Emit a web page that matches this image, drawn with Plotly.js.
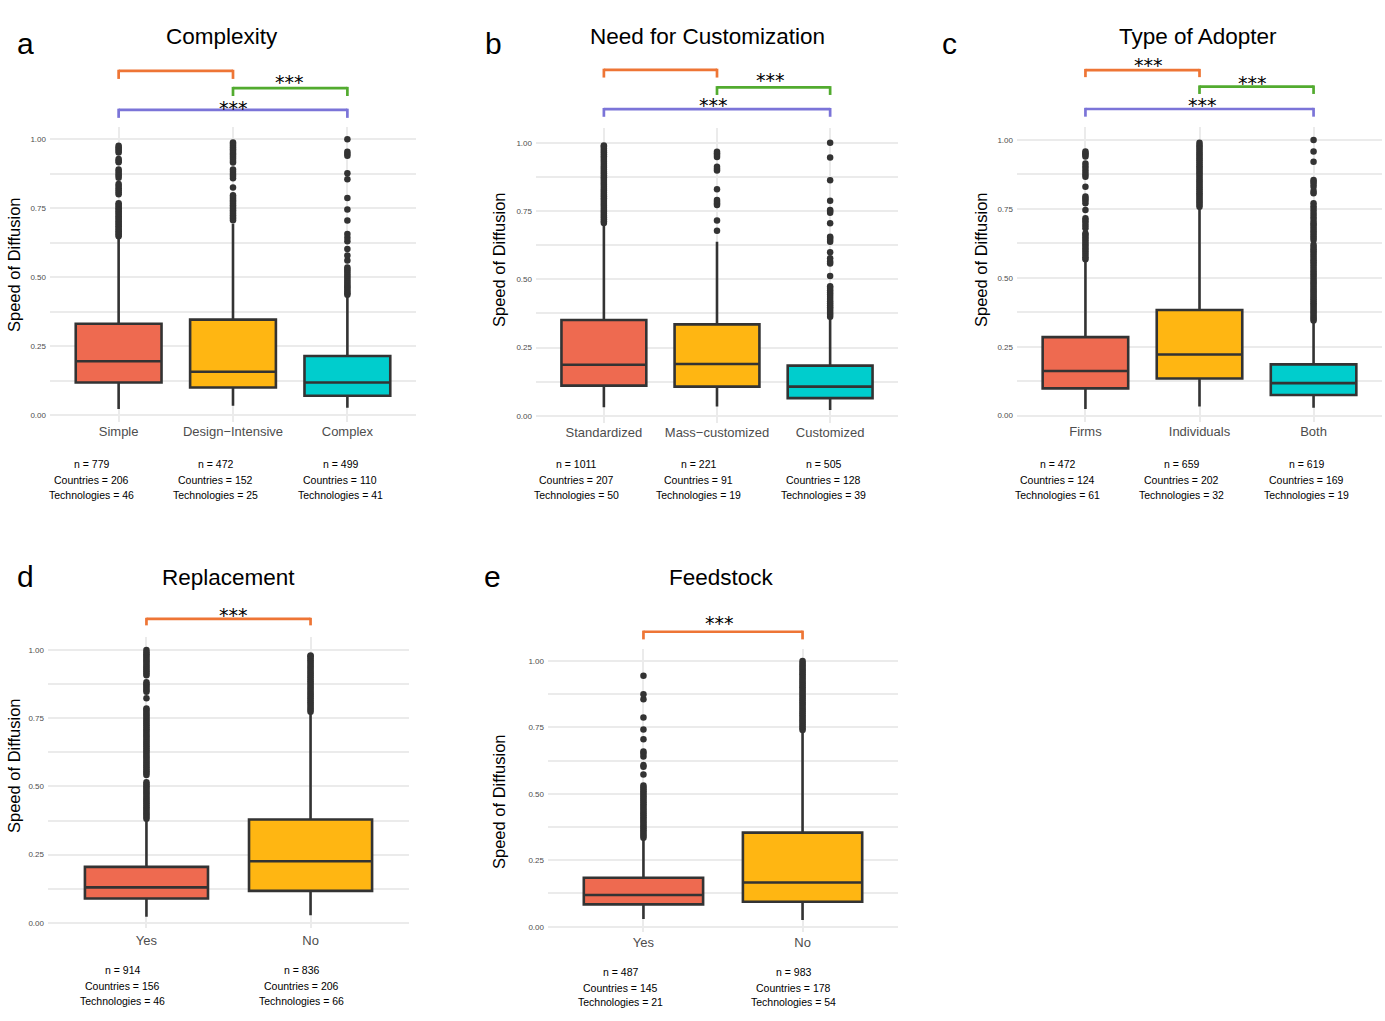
<!DOCTYPE html>
<html>
<head>
<meta charset="utf-8">
<script src="https://cdn.plot.ly/plotly-3.0.1.min.js"></script>
<style>
  body { margin: 0; background: #fff; }
  #chart { width: 1385px; height: 1021px; }
</style>
</head>
<body>
<div id="chart"></div>
<script>
// ---- data ----
var complexityCats = ['Simple', 'Design\u2212Intensive', 'Complex'];
var complexityQ1 = [0.118, 0.100, 0.070];
var complexityMedian = [0.195, 0.157, 0.118];
var complexityQ3 = [0.331, 0.346, 0.214];
var complexityLow = [0.022, 0.034, 0.027];
var complexityHigh = [0.645, 0.693, 0.428];
var complexityOutliers = [
  [0.648, 0.654, 0.66, 0.666, 0.672, 0.678, 0.684, 0.69, 0.696, 0.702, 0.708, 0.714, 0.72, 0.726, 0.732, 0.738, 0.744, 0.75, 0.756, 0.762, 0.768,
   0.80, 0.808, 0.815, 0.822, 0.83, 0.837, 0.86, 0.868, 0.875, 0.883, 0.89, 0.916, 0.922, 0.928, 0.952, 0.958, 0.964, 0.97, 0.976],
  [0.706, 0.712, 0.718, 0.724, 0.73, 0.736, 0.742, 0.748, 0.754, 0.76, 0.766, 0.772, 0.778, 0.784, 0.79, 0.797, 0.825,
   0.858, 0.866, 0.874, 0.882, 0.89, 0.915, 0.922, 0.93, 0.937, 0.944, 0.95, 0.957, 0.963, 0.97, 0.976, 0.982, 0.988],
  [0.436, 0.442, 0.448, 0.455, 0.462, 0.468, 0.475, 0.482, 0.49, 0.498, 0.505, 0.512, 0.52, 0.528, 0.535,
   0.56, 0.578, 0.602, 0.63, 0.643, 0.656, 0.705, 0.745, 0.787, 0.855, 0.876, 0.94, 0.947, 0.954, 1.0]
];
var complexityN = [779, 472, 499];
var complexityCountries = [206, 152, 110];
var complexityTech = [46, 25, 41];

var customCats = ['Standardized', 'Mass\u2212customized', 'Customized'];
var customQ1 = [0.111, 0.107, 0.065];
var customMedian = [0.187, 0.190, 0.107];
var customQ3 = [0.351, 0.335, 0.184];
var customLow = [0.032, 0.034, 0.022];
var customHigh = [0.705, 0.638, 0.357];
var customOutliers = [
  [0.706, 0.713, 0.72, 0.727, 0.734, 0.741, 0.748, 0.755, 0.762, 0.769, 0.776, 0.783, 0.79, 0.797, 0.804, 0.811, 0.818, 0.825, 0.832, 0.839, 0.846,
   0.853, 0.86, 0.867, 0.874, 0.881, 0.888, 0.895, 0.902, 0.909, 0.916, 0.923, 0.93, 0.937, 0.944, 0.951, 0.958, 0.965, 0.972, 0.979, 0.986, 0.99],
  [0.678, 0.715, 0.772, 0.778, 0.784, 0.79, 0.83, 0.898, 0.905, 0.912, 0.948, 0.955, 0.962, 0.967],
  [0.363, 0.37, 0.377, 0.384, 0.391, 0.398, 0.405, 0.412, 0.42, 0.428, 0.436, 0.444, 0.452, 0.46, 0.468, 0.475, 0.512,
   0.558, 0.565, 0.577, 0.599, 0.638, 0.645, 0.652, 0.656, 0.705, 0.744, 0.75, 0.754, 0.788, 0.863, 0.946, 1.0]
];
var customN = [1011, 221, 505];
var customCountries = [207, 91, 128];
var customTech = [50, 19, 39];

var adopterCats = ['Firms', 'Individuals', 'Both'];
var adopterQ1 = [0.099, 0.135, 0.075];
var adopterMedian = [0.162, 0.222, 0.118];
var adopterQ3 = [0.285, 0.383, 0.186];
var adopterLow = [0.024, 0.033, 0.029];
var adopterHigh = [0.559, 0.752, 0.341];
var adopterOutliers = [
  [0.567, 0.575, 0.583, 0.591, 0.599, 0.607, 0.615, 0.623, 0.631, 0.639, 0.647, 0.655, 0.661, 0.68, 0.69, 0.70, 0.708, 0.716, 0.746,
   0.77, 0.78, 0.788, 0.795, 0.83, 0.867, 0.876, 0.885, 0.895, 0.905, 0.915, 0.94, 0.947, 0.952, 0.958],
  [0.758, 0.765, 0.772, 0.779, 0.786, 0.793, 0.8, 0.807, 0.814, 0.821, 0.828, 0.835, 0.842, 0.849, 0.856, 0.863, 0.87, 0.877,
   0.884, 0.891, 0.898, 0.905, 0.912, 0.919, 0.926, 0.933, 0.94, 0.947, 0.954, 0.961, 0.968, 0.975, 0.982, 0.99],
  [0.345, 0.352, 0.359, 0.366, 0.373, 0.38, 0.387, 0.394, 0.401, 0.408, 0.415, 0.422, 0.429, 0.436, 0.443, 0.45, 0.457, 0.464, 0.471,
   0.478, 0.485, 0.492, 0.5, 0.508, 0.516, 0.524, 0.532, 0.54, 0.548, 0.556, 0.564, 0.572, 0.58, 0.588, 0.596, 0.604, 0.612, 0.62,
   0.637, 0.645, 0.653, 0.661, 0.669, 0.677, 0.685, 0.693, 0.70, 0.71, 0.72, 0.73, 0.74, 0.75, 0.76, 0.77,
   0.807, 0.815, 0.83, 0.84, 0.848, 0.855, 0.921, 0.958, 1.0]
];
var adopterN = [472, 659, 619];
var adopterCountries = [124, 202, 169];
var adopterTech = [61, 32, 19];

var replaceCats = ['Yes', 'No'];
var replaceQ1 = [0.089, 0.117];
var replaceMedian = [0.130, 0.226];
var replaceQ3 = [0.205, 0.379];
var replaceLow = [0.022, 0.028];
var replaceHigh = [0.377, 0.768];
var replaceOutliers = [
  [0.382, 0.389, 0.396, 0.403, 0.41, 0.417, 0.424, 0.431, 0.438, 0.445, 0.452, 0.459, 0.466, 0.473, 0.48, 0.487, 0.494, 0.501, 0.508, 0.515,
   0.542, 0.549, 0.556, 0.563, 0.57, 0.577, 0.584, 0.591, 0.598, 0.605, 0.612, 0.619, 0.626, 0.633, 0.64, 0.647, 0.654, 0.661, 0.668,
   0.675, 0.682, 0.689, 0.696, 0.703, 0.71, 0.717, 0.724, 0.731, 0.738, 0.745, 0.752, 0.759, 0.766, 0.773, 0.78, 0.786, 0.823,
   0.847, 0.854, 0.861, 0.868, 0.875, 0.882, 0.908, 0.915, 0.922, 0.929, 0.936, 0.943, 0.95, 0.957, 0.964, 0.971, 0.978, 0.985, 0.992, 1.0],
  [0.774, 0.781, 0.788, 0.795, 0.802, 0.809, 0.816, 0.823, 0.83, 0.837, 0.844, 0.851, 0.858, 0.865, 0.872, 0.879, 0.886, 0.893, 0.9,
   0.907, 0.914, 0.921, 0.928, 0.935, 0.942, 0.949, 0.956, 0.963, 0.97, 0.977, 0.98]
];
var replaceN = [914, 836];
var replaceCountries = [156, 206];
var replaceTech = [46, 66];

var feedCats = ['Yes', 'No'];
var feedQ1 = [0.084, 0.094];
var feedMedian = [0.119, 0.166];
var feedQ3 = [0.184, 0.354];
var feedLow = [0.029, 0.025];
var feedHigh = [0.332, 0.734];
var feedOutliers = [
  [0.335, 0.342, 0.349, 0.356, 0.363, 0.37, 0.377, 0.384, 0.391, 0.398, 0.405, 0.412, 0.419, 0.426, 0.433, 0.44, 0.447, 0.454, 0.461,
   0.468, 0.475, 0.482, 0.489, 0.496, 0.503, 0.51, 0.517, 0.524, 0.531, 0.573, 0.602, 0.608, 0.64, 0.652, 0.659, 0.705, 0.742,
   0.787, 0.856, 0.875, 0.944],
  [0.74, 0.747, 0.754, 0.761, 0.768, 0.775, 0.782, 0.789, 0.796, 0.803, 0.81, 0.817, 0.824, 0.831, 0.838, 0.845, 0.852, 0.859,
   0.866, 0.873, 0.88, 0.887, 0.894, 0.901, 0.908, 0.915, 0.922, 0.929, 0.936, 0.943, 0.95, 0.957, 0.964, 0.971, 0.978, 0.985, 0.992, 1.0]
];
var feedN = [487, 983];
var feedCountries = [145, 178];
var feedTech = [21, 54];

var yTickVals = [0, 0.25, 0.5, 0.75, 1];
var yTickText = ['0.00', '0.25', '0.50', '0.75', '1.00'];
var yMinorVals = [0.125, 0.375, 0.625, 0.875];

// ---- styling ----
var W = 1385, H = 1021;
var FONT = 'Liberation Sans, Arial, Helvetica, sans-serif';
var fills = ['#EE6A50', '#FFB612', '#00CDCD'];
var ORANGE = '#EE7535', GREEN = '#52AB2F', PURPLE = '#7B74D8';
var INK = '#333333', GRID = '#EBEBEB';

function fx(p) { return p / W; }
function fy(p) { return 1 - p / H; }

// box = [left, right, top, bottom] in pixels; brackets use y-domain fractions
var panels = [
  { letter: 'a', title: 'Complexity', cats: complexityCats, q1: complexityQ1, med: complexityMedian, q3: complexityQ3,
    lo: complexityLow, hi: complexityHigh, out: complexityOutliers, n: complexityN, ctry: complexityCountries, tech: complexityTech,
    box: [50, 416, 127, 422], yr: [-0.025, 1.044], titleXY: [222, 37], letterXY: [25, 43], yTitleXY: [14, 265],
    countX: [91, 215, 340], countY: [464, 479.5, 495], xPad: 0,
    brackets: [
      { a: 0, b: 1, top: 1.190, end: 1.163, color: ORANGE, stars: null },
      { a: 1, b: 2, top: 1.132, end: 1.105, color: GREEN, stars: 1.153, sx: 1.49 },
      { a: 0, b: 2, top: 1.058, end: 1.031, color: PURPLE, stars: 1.065, sx: 1 }
    ] },
  { letter: 'b', title: 'Need for Customization', cats: customCats, q1: customQ1, med: customMedian, q3: customQ3,
    lo: customLow, hi: customHigh, out: customOutliers, n: customN, ctry: customCountries, tech: customTech,
    box: [536, 898, 128, 423], yr: [-0.026, 1.054], titleXY: [707, 37], letterXY: [493, 43], yTitleXY: [499, 260],
    countX: [576, 699, 823], countY: [464, 479.5, 495], xPad: 0,
    brackets: [
      { a: 0, b: 1, top: 1.197, end: 1.171, color: ORANGE, stars: null },
      { a: 1, b: 2, top: 1.138, end: 1.112, color: GREEN, stars: 1.164, sx: 1.47 },
      { a: 0, b: 2, top: 1.064, end: 1.038, color: PURPLE, stars: 1.079, sx: 0.965 }
    ] },
  { letter: 'c', title: 'Type of Adopter', cats: adopterCats, q1: adopterQ1, med: adopterMedian, q3: adopterQ3,
    lo: adopterLow, hi: adopterHigh, out: adopterOutliers, n: adopterN, ctry: adopterCountries, tech: adopterTech,
    box: [1017, 1382, 127, 422], yr: [-0.023, 1.047], titleXY: [1198, 37], letterXY: [949, 43], yTitleXY: [981, 260],
    countX: [1057, 1181, 1306], countY: [464, 479.5, 495], xPad: 0,
    brackets: [
      { a: 0, b: 1, top: 1.193, end: 1.169, color: ORANGE, stars: 1.211, sx: 0.55 },
      { a: 1, b: 2, top: 1.137, end: 1.112, color: GREEN, stars: 1.149, sx: 1.465 },
      { a: 0, b: 2, top: 1.061, end: 1.035, color: PURPLE, stars: 1.076, sx: 1.03 }
    ] },
  { letter: 'd', title: 'Replacement', cats: replaceCats, q1: replaceQ1, med: replaceMedian, q3: replaceQ3,
    lo: replaceLow, hi: replaceHigh, out: replaceOutliers, n: replaceN, ctry: replaceCountries, tech: replaceTech,
    box: [48, 409, 637, 928], yr: [-0.019, 1.048], titleXY: [228, 577], letterXY: [25, 576], yTitleXY: [14, 766],
    countX: [122, 301], countY: [970, 986, 1001], xPad: 3,
    brackets: [
      { a: 0, b: 1, top: 1.062, end: 1.040, color: ORANGE, stars: 1.077, sx: 0.53 }
    ] },
  { letter: 'e', title: 'Feedstock', cats: feedCats, q1: feedQ1, med: feedMedian, q3: feedQ3,
    lo: feedLow, hi: feedHigh, out: feedOutliers, n: feedN, ctry: feedCountries, tech: feedTech,
    box: [548, 898, 649, 932], yr: [-0.020, 1.045], titleXY: [721, 577], letterXY: [492, 576], yTitleXY: [499, 802],
    countX: [620, 793], countY: [972, 988, 1002], xPad: 1,
    brackets: [
      { a: 0, b: 1, top: 1.061, end: 1.034, color: ORANGE, stars: 1.092, sx: 0.475 }
    ] }
];

var traces = [];
var shapes = [];
var annotations = [];
var layout = {
  width: W, height: H,
  margin: { l: 0, r: 0, t: 0, b: 0 },
  paper_bgcolor: '#fff', plot_bgcolor: '#fff',
  showlegend: false,
  font: { family: FONT, color: '#000' }
};

panels.forEach(function (p, i) {
  var s = i === 0 ? '' : String(i + 1);
  var xa = 'x' + s, ya = 'y' + s;
  var nc = p.cats.length;

  layout['xaxis' + s] = {
    domain: [fx(p.box[0]), fx(p.box[1])], anchor: ya,
    type: 'category', categoryorder: 'array', categoryarray: p.cats,
    range: [-0.6, nc - 0.4], showgrid: true, gridcolor: GRID, gridwidth: 2,
    zeroline: false, showline: false, ticks: '', ticklabelstandoff: p.xPad,
    tickfont: { size: 13, color: '#4D4D4D', family: FONT }, fixedrange: true
  };
  layout['yaxis' + s] = {
    domain: [fy(p.box[3]), fy(p.box[2])], anchor: xa,
    range: p.yr, tickvals: yTickVals, ticktext: yTickText,
    showgrid: true, gridcolor: GRID, gridwidth: 2, zeroline: false, showline: false, ticks: '',
    minor: { tickvals: yMinorVals, showgrid: true, gridcolor: GRID, gridwidth: 2 },
    ticklabelstandoff: 3,
    tickfont: { size: 8, color: '#4D4D4D', family: FONT }, fixedrange: true
  };

  p.cats.forEach(function (c, j) {
    traces.push({
      type: 'box', xaxis: xa, yaxis: ya, x: [c],
      q1: [p.q1[j]], median: [p.med[j]], q3: [p.q3[j]],
      lowerfence: [p.lo[j]], upperfence: [p.hi[j]],
      fillcolor: fills[j], line: { color: INK, width: 2.6 },
      whiskerwidth: 0, width: 0.75, boxpoints: false, hoverinfo: 'skip'
    });
    traces.push({
      type: 'scatter', mode: 'markers', xaxis: xa, yaxis: ya,
      x: p.out[j].map(function () { return c; }), y: p.out[j],
      marker: { size: 6.5, color: INK }, hoverinfo: 'skip'
    });
  });

  // significance brackets above the panel
  var yd = ya + ' domain';
  p.brackets.forEach(function (b) {
    var ln = { color: b.color, width: 2.7 };
    shapes.push({ type: 'line', xref: xa, yref: yd, x0: b.a, x1: b.b, y0: b.top, y1: b.top, line: ln });
    shapes.push({ type: 'line', xref: xa, yref: yd, x0: b.a, x1: b.a, y0: b.top + 0.004, y1: b.end, line: ln });
    shapes.push({ type: 'line', xref: xa, yref: yd, x0: b.b, x1: b.b, y0: b.top + 0.004, y1: b.end, line: ln });
    if (b.stars !== null) {
      annotations.push({
        xref: xa, yref: yd, x: b.sx !== undefined ? b.sx : (b.a + b.b) / 2, y: b.stars,
        text: '***', showarrow: false, xanchor: 'center', yanchor: 'middle',
        font: { size: 19, family: 'DejaVu Sans, sans-serif', color: '#000' }
      });
    }
  });

  annotations.push({
    xref: 'paper', yref: 'paper', x: fx(p.titleXY[0]), y: fy(p.titleXY[1]),
    text: p.title, showarrow: false, xanchor: 'center', yanchor: 'middle',
    font: { size: 22.5, family: FONT, color: '#000' }
  });
  annotations.push({
    xref: 'paper', yref: 'paper', x: fx(p.letterXY[0]), y: fy(p.letterXY[1]),
    text: p.letter, showarrow: false, xanchor: 'center', yanchor: 'middle',
    font: { size: 30, family: FONT, color: '#000' }
  });
  annotations.push({
    xref: 'paper', yref: 'paper', x: fx(p.yTitleXY[0]), y: fy(p.yTitleXY[1]),
    text: 'Speed of Diffusion', textangle: -90, showarrow: false, xanchor: 'center', yanchor: 'middle',
    font: { size: 16.5, family: FONT, color: '#000' }
  });

  p.cats.forEach(function (c, j) {
    var lines = ['n = ' + p.n[j], 'Countries = ' + p.ctry[j], 'Technologies = ' + p.tech[j]];
    lines.forEach(function (t, k) {
      annotations.push({
        xref: 'paper', yref: 'paper', x: fx(p.countX[j]), y: fy(p.countY[k]),
        text: t, showarrow: false, xanchor: 'center', yanchor: 'middle',
        font: { size: 10.5, family: FONT, color: '#000' }
      });
    });
  });
});

layout.shapes = shapes;
layout.annotations = annotations;

Plotly.newPlot('chart', traces, layout, { displayModeBar: false, staticPlot: true });
</script>
</body>
</html>
